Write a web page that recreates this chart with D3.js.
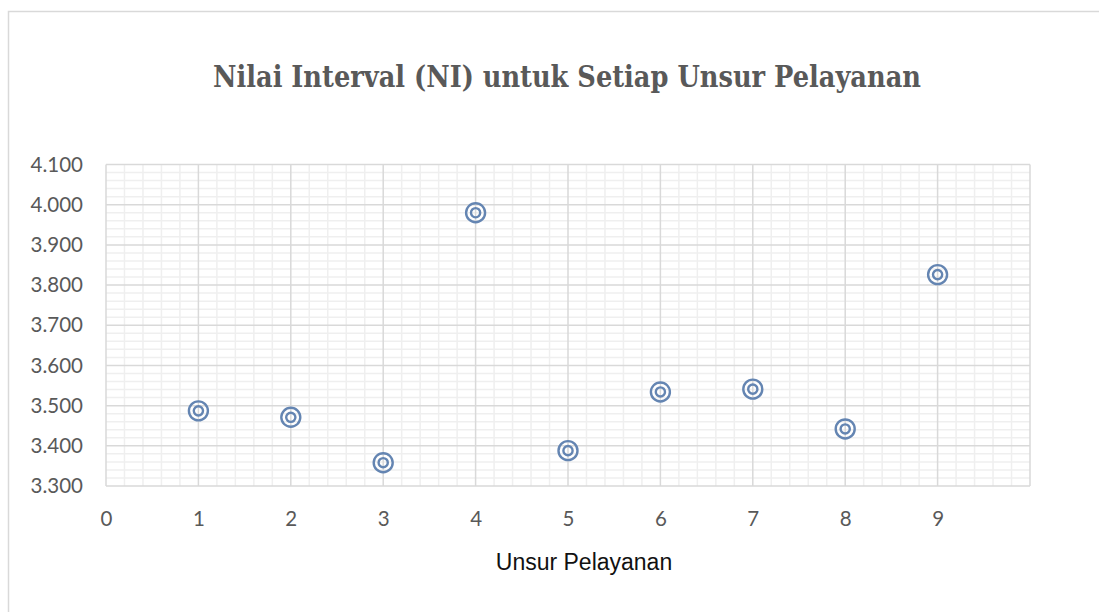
<!DOCTYPE html>
<html>
<head>
<meta charset="utf-8">
<script src="https://cdn.jsdelivr.net/npm/d3@7"></script>
<style>
  html, body { margin: 0; padding: 0; background: #fff; }
  svg { display: block; }
</style>
</head>
<body>
<svg id="chart" width="1099" height="612"></svg>
<script>
const titleText = "Nilai Interval (NI) untuk Setiap Unsur Pelayanan";
const xAxisTitle = "Unsur Pelayanan";
const unsur = [1, 2, 3, 4, 5, 6, 7, 8, 9];
const nilaiInterval = [3.487, 3.471, 3.358, 3.980, 3.388, 3.534, 3.541, 3.442, 3.826];
const xTicks = [0, 1, 2, 3, 4, 5, 6, 7, 8, 9];
const yTicks = [3.3, 3.4, 3.5, 3.6, 3.7, 3.8, 3.9, 4.0, 4.1];
const yTickLabels = ["3.300", "3.400", "3.500", "3.600", "3.700", "3.800", "3.900", "4.000", "4.100"];

const svg = d3.select("#chart");
const plot = { left: 106, right: 1030, top: 164.5, bottom: 486 };

// chart border
svg.append("rect")
  .attr("x", 8.5).attr("y", 11.5)
  .attr("width", 1200).attr("height", 700)
  .attr("fill", "#fff").attr("stroke", "#d9d9d9").attr("stroke-width", 1.5);

const x = d3.scaleLinear().domain([0, 10]).range([plot.left, plot.right]);
const y = d3.scaleLinear().domain([3.3, 4.1]).range([plot.bottom, plot.top]);

const g = svg.append("g");

// minor gridlines
const xMinor = d3.range(0, 50).map(i => i * 0.2).filter(v => Math.abs(v - Math.round(v)) > 1e-6);
const yMinor = d3.range(0, 40).map(i => 3.3 + i * 0.02).filter(v => Math.abs(v * 10 - Math.round(v * 10)) > 1e-6);

g.selectAll(".xminor").data(xMinor).join("line")
  .attr("x1", d => x(d)).attr("x2", d => x(d))
  .attr("y1", plot.top).attr("y2", plot.bottom)
  .attr("stroke", "#efefef").attr("stroke-width", 1.5);
g.selectAll(".yminor").data(yMinor).join("line")
  .attr("x1", plot.left).attr("x2", plot.right)
  .attr("y1", d => y(d)).attr("y2", d => y(d))
  .attr("stroke", "#efefef").attr("stroke-width", 1.5);

// major gridlines
g.selectAll(".xmajor").data(d3.range(0, 11)).join("line")
  .attr("x1", d => x(d)).attr("x2", d => x(d))
  .attr("y1", plot.top).attr("y2", plot.bottom)
  .attr("stroke", "#d9d9d9").attr("stroke-width", 1.5);
g.selectAll(".ymajor").data(yTicks).join("line")
  .attr("x1", plot.left).attr("x2", plot.right)
  .attr("y1", d => y(d)).attr("y2", d => y(d))
  .attr("stroke", "#d9d9d9").attr("stroke-width", 1.5);

// axes (labels only)
const yAxis = d3.axisLeft(y).tickValues(yTicks)
  .tickFormat((d, i) => yTickLabels[i]).tickSize(0).tickPadding(23);
const ya = svg.append("g").attr("transform", `translate(${plot.left},0)`).call(yAxis);
ya.select(".domain").remove();
ya.selectAll("text").attr("font-family", "Lato, 'Open Sans', sans-serif")
  .attr("font-size", 20.5).attr("fill", "#595959");

const xAxis = d3.axisBottom(x).tickValues(xTicks).tickFormat(d3.format("d"))
  .tickSize(0).tickPadding(25);
const xa = svg.append("g").attr("transform", `translate(0,${plot.bottom})`).call(xAxis);
xa.select(".domain").remove();
xa.selectAll("text").attr("font-family", "Lato, 'Open Sans', sans-serif")
  .attr("font-size", 20.5).attr("fill", "#595959");

// points: double circle marker
const pts = svg.append("g").selectAll("g").data(unsur).join("g")
  .attr("transform", (d, i) => `translate(${x(d)},${y(nilaiInterval[i])})`);
pts.append("circle").attr("r", 9.5).attr("fill", "none")
  .attr("stroke", "#6485b2").attr("stroke-width", 2.4);
pts.append("circle").attr("r", 4.6).attr("fill", "none")
  .attr("stroke", "#6485b2").attr("stroke-width", 2.4);

// title
svg.append("text")
  .attr("x", 567).attr("y", 87)
  .attr("text-anchor", "middle")
  .attr("font-family", "'DejaVu Serif', serif")
  .attr("font-weight", "bold")
  .attr("font-size", 29)
  .attr("textLength", 708)
  .attr("lengthAdjust", "spacingAndGlyphs")
  .attr("fill", "#595959")
  .text(titleText);

// x axis title
svg.append("text")
  .attr("x", 584).attr("y", 570)
  .attr("text-anchor", "middle")
  .attr("font-family", "'Liberation Sans', Arial, sans-serif")
  .attr("font-size", 23)
  .attr("fill", "#111")
  .text(xAxisTitle);
</script>
</body>
</html>
